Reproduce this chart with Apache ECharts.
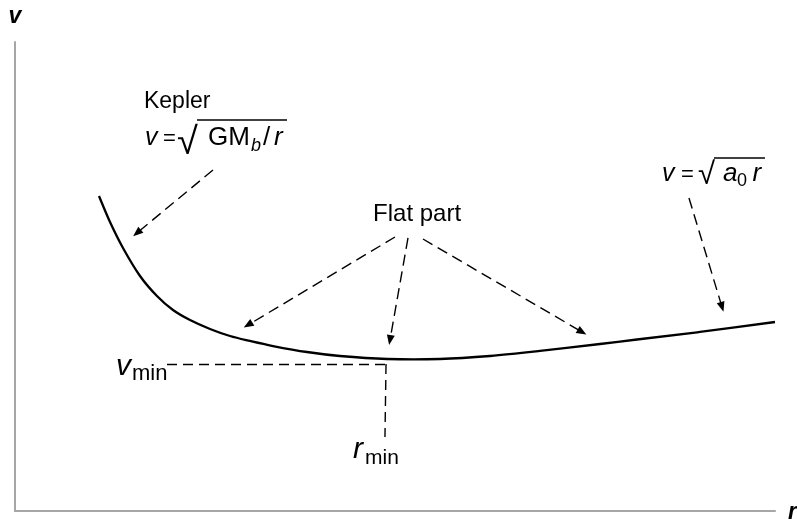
<!DOCTYPE html>
<html><head><meta charset="utf-8">
<script src="https://cdn.jsdelivr.net/npm/echarts@6/dist/echarts.min.js"></script>
<style>html,body{margin:0;padding:0;background:#fff}#c{width:797px;height:519px}</style>
</head><body><div id="c"></div>
<script>
// Rotation curve (schematic): radius r vs velocity v (axes 0..100)
const rValues = [11.05, 12.50, 14.21, 16.45, 18.68, 20.79, 23.03, 25.66, 28.29, 30.92, 33.95, 38.42, 42.76, 48.95, 55.92, 62.50, 69.08, 76.97, 81.84, 90.13, 100];
const vValues = [67.16, 61.62, 56.08, 50.11, 45.84, 42.86, 40.72, 38.81, 37.31, 36.25, 35.18, 33.90, 33.05, 32.41, 32.41, 33.05, 34.12, 35.61, 36.57, 38.17, 40.30];

// Annotation arrows (start -> end), data coordinates
const arrowStarts = [[26.05, 72.71], [50.0, 58.42], [51.71, 58.21], [53.68, 58.0], [88.68, 66.74]];
const arrowEnds   = [[16.05, 59.28], [30.66, 39.66], [49.34, 36.46], [74.61, 38.17], [93.03, 43.50]];

// Guide lines for v_min / r_min
const vMinLevel = 31.34;
const rMinLevel = 48.82;
const guideLines = [[[20.0, vMinLevel], [rMinLevel, vMinLevel]], [[rMinLevel, vMinLevel], [48.68, 15.78]]];

// Square-root overlines
const overlines = [[[23.95, 83.37], [35.79, 83.37]], [[91.97, 75.27], [98.68, 75.27]]];

// Text pieces: text, anchor (left, baseline) in data coords
const labelTexts = ['Kepler', 'v', '=', '\u221A', 'GM', 'b', '/', 'r',
                    'v', '=', '\u221A', 'a', '0', 'r',
                    'Flat part', 'v', 'min', 'r', 'min',
                    'v', 'r'];
const labelAnchors = [[16.97, 85.50], [17.11, 77.61], [19.47, 77.61], [21.32, 75.48], [25.39, 77.61], [31.05, 76.55], [32.63, 77.61], [34.08, 77.61],
                      [85.13, 69.94], [87.63, 69.94], [89.87, 69.30], [93.16, 69.94], [95.00, 69.08], [97.04, 69.94],
                      [47.11, 61.41], [13.29, 28.57], [15.39, 27.51], [44.47, 10.87], [46.05, 9.81],
                      [-0.86, 103.62], [101.71, -2.13]];
const labelSizes = [23, 25, 22, 38, 26, 18, 26, 26,
                    25, 22, 31, 26, 18, 26,
                    24, 30, 22, 30, 21,
                    23, 23];
const labelItalic = [0, 1, 0, 0, 0, 1, 0, 1,
                     1, 0, 0, 1, 0, 1,
                     0, 1, 0, 1, 0,
                     1, 1];
const labelBold = [0, 0, 0, 0, 0, 0, 0, 0,
                   0, 0, 0, 0, 0, 0,
                   0, 0, 0, 0, 0,
                   1, 1];

const FONT = '"Liberation Sans", Arial, sans-serif';
const chart = echarts.init(document.getElementById('c'), null, {renderer: 'canvas'});

const curveData = rValues.map((r, i) => [r, vValues[i]]);

const arrowData = arrowStarts.map((s, i) => [
  {coord: s, symbol: 'none'},
  {coord: arrowEnds[i], symbol: 'triangle', symbolSize: [8, 10]}
]);
const guideData = guideLines.map(l => [
  {coord: l[0], symbol: 'none', lineStyle: {type: [10, 6], width: 1.4, color: '#000', opacity: 1}},
  {coord: l[1], symbol: 'none'}
]);
const overData = overlines.map(l => [
  {coord: l[0], symbol: 'none', lineStyle: {type: 'solid', width: 1.6, color: '#000', opacity: 1}},
  {coord: l[1], symbol: 'none'}
]);

// Smooth curve through the read points (Catmull-Rom), positioned by the axes' scales
function renderCurve(params, api) {
  if (params.dataIndex !== 0) return null;
  const pts = curveData.map(d => api.coord(d));
  const n = pts.length;
  let d = 'M' + pts[0][0] + ' ' + pts[0][1];
  for (let i = 0; i < n - 1; i++) {
    const p0 = pts[Math.max(i - 1, 0)], p1 = pts[i], p2 = pts[i + 1], p3 = pts[Math.min(i + 2, n - 1)];
    const c1x = p1[0] + (p2[0] - p0[0]) / 6, c1y = p1[1] + (p2[1] - p0[1]) / 6;
    const c2x = p2[0] - (p3[0] - p1[0]) / 6, c2y = p2[1] - (p3[1] - p1[1]) / 6;
    d += ' C' + c1x + ' ' + c1y + ' ' + c2x + ' ' + c2y + ' ' + p2[0] + ' ' + p2[1];
  }
  return {type: 'path', shape: {pathData: d}, style: {stroke: '#000', lineWidth: 2.3, fill: 'none'}, silent: true};
}

chart.setOption({
  animation: false,
  backgroundColor: '#fff',
  grid: {left: 15, right: 22, top: 42, bottom: 8},
  xAxis: {
    type: 'value', min: 0, max: 100,
    axisLine: {show: true, onZero: false, lineStyle: {color: '#a6a6a6', width: 2}},
    axisTick: {show: false}, axisLabel: {show: false}, splitLine: {show: false}
  },
  yAxis: {
    type: 'value', min: 0, max: 100,
    axisLine: {show: true, onZero: false, lineStyle: {color: '#a6a6a6', width: 2}},
    axisTick: {show: false}, axisLabel: {show: false}, splitLine: {show: false}
  },
  series: [{
    type: 'custom',
    coordinateSystem: 'cartesian2d',
    data: curveData,
    encode: {x: 0, y: 1},
    silent: true,
    renderItem: renderCurve
  }, {
    type: 'line',
    data: curveData,
    showSymbol: false,
    silent: true,
    lineStyle: {opacity: 0, width: 0},
    markLine: {
      silent: true,
      animation: false,
      label: {show: false},
      lineStyle: {color: '#000', width: 1.4, type: [11, 6], opacity: 1},
      itemStyle: {color: '#000', opacity: 1},
      emphasis: {disabled: true},
      data: arrowData.concat(guideData, overData)
    }
  }]
});

const graphics = labelTexts.map((t, i) => {
  const p = chart.convertToPixel({gridIndex: 0}, labelAnchors[i]);
  const size = labelSizes[i];
  return {
    type: 'text', silent: true,
    x: p[0], y: p[1] - 0.3465 * size,
    style: {
      text: t, fill: '#000',
      font: (labelItalic[i] ? 'italic ' : '') + (labelBold[i] ? 'bold ' : '') + size + 'px ' + FONT,
      align: 'left', verticalAlign: 'middle'
    }
  };
});
chart.setOption({graphic: graphics});
</script>
</body></html>
